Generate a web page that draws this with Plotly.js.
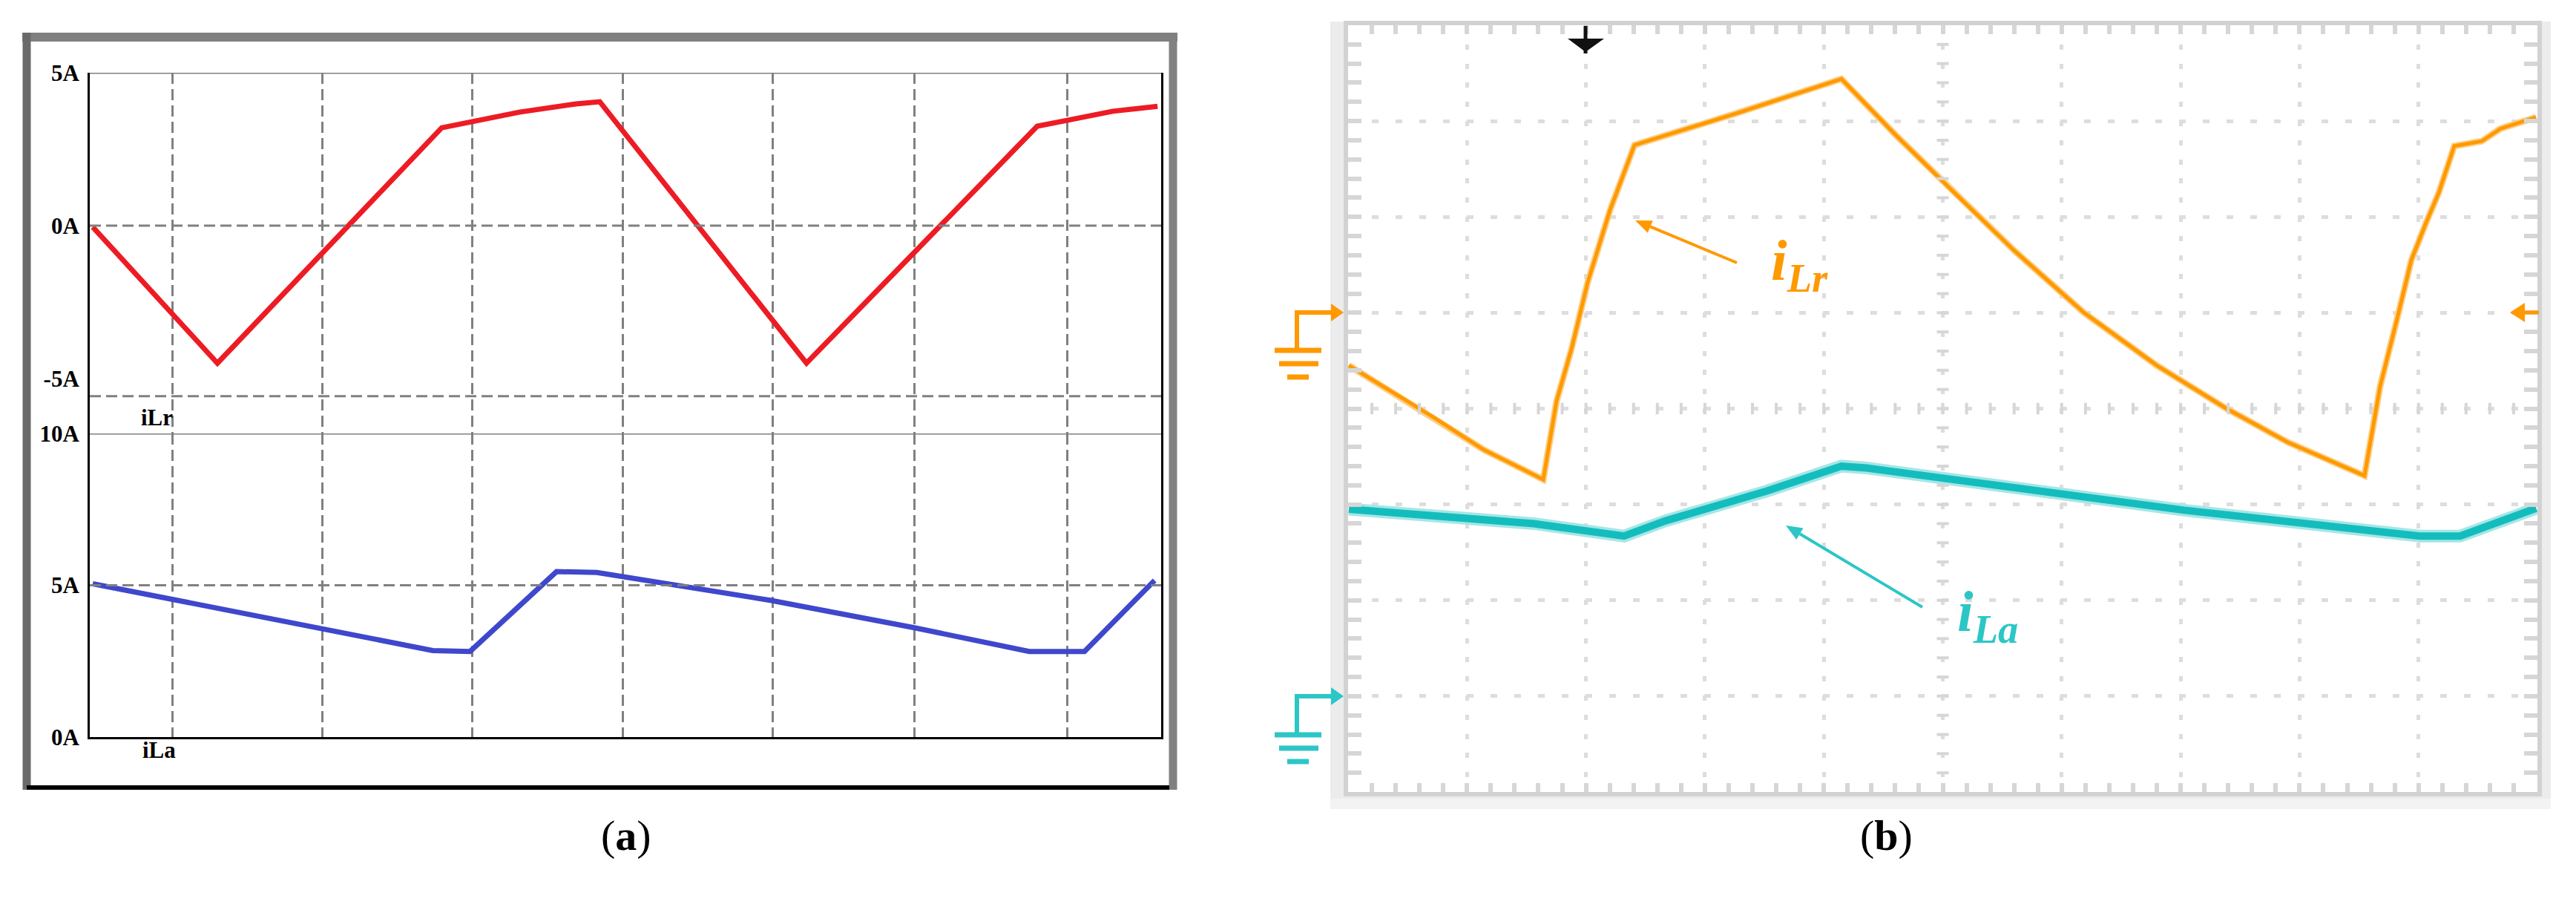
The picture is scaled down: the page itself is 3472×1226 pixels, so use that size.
<!DOCTYPE html>
<html><head><meta charset="utf-8">
<script src="https://cdn.plot.ly/plotly-3.0.1.min.js"></script>
<style>html,body{margin:0;padding:0;background:#fff;}#chart{width:3472px;height:1226px;}</style>
</head><body><div id="chart"></div>
<script>
// ---------- Panel (a): simulation (time in grid units) ----------
const simTimeILr = [0.02, 0.856, 2.36, 2.58, 2.88, 3.26, 3.42, 4.806, 6.353, 6.56, 6.86, 7.16];
const simILr     = [-0.05, -4.5, 3.2, 3.42, 3.71, 3.98, 4.05, -4.5, 3.25, 3.45, 3.74, 3.9];
const simTimeILa = [0.02, 1.565, 2.30, 2.55, 3.13, 3.40, 4.57, 5.53, 6.30, 6.67, 7.14];
const simILa     = [5.05, 3.55, 2.85, 2.82, 5.45, 5.42, 4.5, 3.6, 2.82, 2.82, 5.16];
const simGridTimes = [0.557, 1.562, 2.567, 3.577, 4.582, 5.532, 6.557];
const simTimeMax = 7.184;
const iLrTickVals = [5, 0, -5];
const iLrTickText = ['5A', '0A', '-5A'];
const iLaTickVals = [10, 5, 0];
const iLaTickText = ['10A', '5A', '0A'];
const iLrRange = [-6.8, 5];
const iLrSeparator = -5.58;
const iLaRange = [0, 10];

// ---------- Panel (b): oscilloscope (time & amplitude in divisions) ----------
const scopeTimeILr = [0.006, 0.705, 1.142, 1.641, 1.753, 1.878, 2.015, 2.202, 2.408, 3.263, 4.148, 4.6, 5.1, 5.6, 6.188, 6.8, 7.386, 7.9, 8.546, 8.677, 8.815, 8.940, 9.064, 9.170, 9.301, 9.532, 9.688, 9.988];
const scopeILr     = [-0.55, -1.08, -1.43, -1.74, -0.92, -0.38, 0.32, 1.07, 1.75, 2.08, 2.44, 1.86, 1.25, 0.65, 0.0, -0.55, -1.0, -1.35, -1.70, -0.77, -0.09, 0.55, 0.94, 1.25, 1.74, 1.79, 1.92, 2.04];
const scopeTimeILa = [0.006, 1.56, 2.32, 2.67, 3.52, 4.148, 4.36, 7.03, 9.01, 9.35, 9.99];
const scopeILa     = [1.95, 1.80, 1.67, 1.83, 2.14, 2.40, 2.38, 1.94, 1.67, 1.67, 1.96];
const scopeDivX = 10, scopeDivY = 8;
const ch1Range = [-5, 3];   // iLr ground marker 5 div above bottom
const ch2Range = [-1, 7];   // iLa ground marker 1 div above bottom

const W = 3472, H = 1226;
const px = x => x / W;
const py = y => 1 - y / H;

const RED = '#ED1C24', BLUE = '#3F47CC', ORANGE = '#FF9900', CYAN = '#14BDBD', CYANL = '#2CC6C6';
const serif = 'Liberation Serif, Times New Roman, serif';

const traces = [
  {x: simTimeILr, y: simILr, xaxis: 'x', yaxis: 'y', mode: 'lines', line: {color: RED, width: 7}, hoverinfo: 'skip'},
  {x: simTimeILa, y: simILa, xaxis: 'x2', yaxis: 'y2', mode: 'lines', line: {color: BLUE, width: 7}, hoverinfo: 'skip'},
  {x: scopeTimeILa, y: scopeILa, xaxis: 'x3', yaxis: 'y5', mode: 'lines', line: {color: '#A6E6E6', width: 17}, hoverinfo: 'skip'},
  {x: scopeTimeILa, y: scopeILa, xaxis: 'x3', yaxis: 'y5', mode: 'lines', line: {color: CYAN, width: 10}, hoverinfo: 'skip'},
  {x: scopeTimeILr, y: scopeILr, xaxis: 'x3', yaxis: 'y4', mode: 'lines', line: {color: '#FBD08A', width: 9}, hoverinfo: 'skip'},
  {x: scopeTimeILr, y: scopeILr, xaxis: 'x3', yaxis: 'y4', mode: 'lines', line: {color: ORANGE, width: 5}, hoverinfo: 'skip'}
];

const gridGray = '#808080';
const dashA = '15px,7px';
const shapes = [];
const P = (x, y) => `${px(x)} ${py(y)}`;
// panel (a) frame
shapes.push({type: 'line', xref: 'paper', yref: 'paper', x0: px(30), x1: px(1587), y0: py(50), y1: py(50), line: {color: '#808080', width: 12}});
shapes.push({type: 'line', xref: 'paper', yref: 'paper', x0: px(36), x1: px(36), y0: py(44), y1: py(1064), line: {color: '#6a6a6a', width: 11}});
shapes.push({type: 'line', xref: 'paper', yref: 'paper', x0: px(1581), x1: px(1581), y0: py(44), y1: py(1064), line: {color: '#808080', width: 11}});
shapes.push({type: 'line', xref: 'paper', yref: 'paper', x0: px(36), x1: px(1576), y0: py(1061), y1: py(1061), line: {color: '#000', width: 6}});
// panel (a) horizontal lines
shapes.push({type: 'line', xref: 'x', yref: 'y', x0: 0, x1: simTimeMax, y0: iLrTickVals[0], y1: iLrTickVals[0], line: {color: gridGray, width: 3}});
shapes.push({type: 'line', xref: 'x', yref: 'y', x0: 0, x1: simTimeMax, y0: 0, y1: 0, line: {color: gridGray, width: 3, dash: dashA}});
shapes.push({type: 'line', xref: 'x', yref: 'y', x0: 0, x1: simTimeMax, y0: iLrSeparator, y1: iLrSeparator, line: {color: gridGray, width: 3, dash: dashA}});
shapes.push({type: 'line', xref: 'x2', yref: 'y2', x0: 0, x1: simTimeMax, y0: iLaTickVals[0], y1: iLaTickVals[0], line: {color: gridGray, width: 3}});
shapes.push({type: 'line', xref: 'x2', yref: 'y2', x0: 0, x1: simTimeMax, y0: 5, y1: 5, line: {color: gridGray, width: 3, dash: dashA}});

// panel (b) background bands
shapes.push({type: 'rect', layer: 'below', xref: 'paper', yref: 'paper', x0: px(1793), x1: px(3438), y0: py(1076), y1: py(29), fillcolor: '#ececec', line: {width: 0}});
shapes.push({type: 'rect', layer: 'below', xref: 'paper', yref: 'paper', x0: px(1793), x1: px(3438), y0: py(1090), y1: py(1076), fillcolor: '#f3f3f3', line: {width: 0}});
shapes.push({type: 'rect', layer: 'below', xref: 'paper', yref: 'paper', x0: px(1817), x1: px(3420), y0: py(1067), y1: py(34), fillcolor: '#ffffff', line: {width: 0}});
// crosshair ticks
for (let k = 1; k < scopeDivY * 5; k++) {
  const v = k / 5;
  shapes.push({type: 'line', xref: 'x3', yref: 'y3', x0: scopeDivX / 2 - 0.05, x1: scopeDivX / 2 + 0.05, y0: v, y1: v, line: {color: '#d6d6d6', width: 4}});
}
for (let k = 1; k < scopeDivX * 5; k++) {
  const v = k / 5;
  shapes.push({type: 'line', xref: 'x3', yref: 'y3', x0: v, x1: v, y0: scopeDivY / 2 - 0.06, y1: scopeDivY / 2 + 0.06, line: {color: '#d6d6d6', width: 4}});
}
// trigger marker (top)
shapes.push({type: 'line', xref: 'paper', yref: 'paper', x0: px(2137), x1: px(2137), y0: py(35), y1: py(72), line: {color: '#111', width: 5}});
shapes.push({type: 'path', xref: 'paper', yref: 'paper', path: `M ${P(2113, 52)} L ${P(2162, 52)} L ${P(2137, 70)} Z`, fillcolor: '#111', line: {width: 0}});
// trigger level marker (right)
shapes.push({type: 'path', xref: 'paper', yref: 'paper', path: `M ${P(3383, 421)} L ${P(3403, 408)} L ${P(3403, 434)} Z`, fillcolor: ORANGE, line: {width: 0}});
shapes.push({type: 'line', xref: 'paper', yref: 'paper', x0: px(3400), x1: px(3422), y0: py(421), y1: py(421), line: {color: ORANGE, width: 5}});
// ground symbols
function ground(col, yg, ybar) {
  shapes.push({type: 'path', xref: 'paper', yref: 'paper', path: `M ${P(1748, ybar)} L ${P(1748, yg)} L ${P(1798, yg)}`, line: {color: col, width: 6}});
  shapes.push({type: 'path', xref: 'paper', yref: 'paper', path: `M ${P(1794, yg - 12)} L ${P(1811, yg)} L ${P(1794, yg + 12)} Z`, fillcolor: col, line: {width: 0}});
  shapes.push({type: 'line', xref: 'paper', yref: 'paper', x0: px(1718), x1: px(1781), y0: py(ybar), y1: py(ybar), line: {color: col, width: 7}});
  shapes.push({type: 'line', xref: 'paper', yref: 'paper', x0: px(1724), x1: px(1777), y0: py(ybar + 18), y1: py(ybar + 18), line: {color: col, width: 7}});
  shapes.push({type: 'line', xref: 'paper', yref: 'paper', x0: px(1735), x1: px(1764), y0: py(ybar + 36), y1: py(ybar + 36), line: {color: col, width: 7}});
}
ground(ORANGE, 421, 472);
ground(CYANL, 938, 990);
// pointer arrows (tail -> head), drawn as shapes
function arrow(col, tx, ty, hx, hy) {
  const dx = hx - tx, dy = hy - ty, L = Math.hypot(dx, dy), ux = dx / L, uy = dy / L;
  const hl = 22, hw = 9;
  const bx = hx - ux * hl, by = hy - uy * hl;
  shapes.push({type: 'line', xref: 'paper', yref: 'paper', x0: px(tx), y0: py(ty), x1: px(bx), y1: py(by), line: {color: col, width: 4}});
  shapes.push({type: 'path', xref: 'paper', yref: 'paper',
    path: `M ${P(hx, hy)} L ${P(bx - uy * hw, by + ux * hw)} L ${P(bx + uy * hw, by - ux * hw)} Z`, fillcolor: col, line: {width: 0}});
}
arrow(ORANGE, 2341, 354, 2204, 297);
arrow(CYANL, 2591, 818, 2407, 708);

const annotations = [
  {xref: 'paper', yref: 'paper', x: px(188), y: py(562), text: '<b>iLr</b>', showarrow: false, font: {family: serif, size: 31, color: '#000'}},
  {xref: 'paper', yref: 'paper', x: px(190), y: py(1030), text: '<b>iLa</b>', showarrow: false, font: {family: serif, size: 31, color: '#000'}},
  {xref: 'paper', yref: 'paper', x: px(808), y: py(1160), text: '(<b>a</b>)', showarrow: false, font: {family: serif, size: 58, color: '#000'}},
  {xref: 'paper', yref: 'paper', x: px(2580), y: py(1160), text: '(<b>b</b>)', showarrow: false, font: {family: serif, size: 58, color: '#000'}},
  {xref: 'paper', yref: 'paper', x: px(2466), y: py(305), text: '<b><i>i</i></b><sub><b><i>Lr</i></b></sub>', showarrow: false, font: {family: serif, size: 78, color: ORANGE}},
  {xref: 'paper', yref: 'paper', x: px(2722), y: py(880), text: '<b><i>i</i></b><sub><b><i>La</i></b></sub>', showarrow: false, font: {family: serif, size: 78, color: CYANL}}
];

const tickFont = {family: serif, size: 31, color: '#000', weight: 'bold'};
const simX = {
  range: [0, simTimeMax], tickvals: simGridTimes, showticklabels: false, ticks: '',
  showgrid: true, gridcolor: gridGray, gridwidth: 3, griddash: dashA, zeroline: false, fixedrange: true
};
const scopeTick = {ticks: 'inside', tickwidth: 6, tickcolor: '#d6d6d6'};

const layout = {
  width: W, height: H, margin: {l: 0, r: 0, t: 0, b: 0},
  paper_bgcolor: '#fff', plot_bgcolor: 'rgba(0,0,0,0)', showlegend: false,
  xaxis: Object.assign({}, simX, {domain: [px(121), px(1565)], anchor: 'y', showline: false}),
  xaxis2: Object.assign({}, simX, {domain: [px(121), px(1565)], anchor: 'y2', showline: true, linecolor: '#000', linewidth: 3}),
  yaxis: {domain: [py(584), py(98)], range: iLrRange, anchor: 'x', tickvals: iLrTickVals, ticktext: iLrTickText,
    ticks: '', showgrid: false, zeroline: false, showline: true, linecolor: '#000', linewidth: 3, mirror: true,
    tickfont: tickFont, ticklabelstandoff: 5, fixedrange: true},
  yaxis2: {domain: [py(993), py(584)], range: iLaRange, anchor: 'x2', tickvals: iLaTickVals, ticktext: iLaTickText,
    ticks: '', showgrid: false, zeroline: false, showline: true, linecolor: '#000', linewidth: 3, mirror: true,
    tickfont: tickFont, ticklabelstandoff: 5, fixedrange: true},
  xaxis3: Object.assign({domain: [px(1817), px(3420)], range: [0, scopeDivX], anchor: 'y3', dtick: 1, tick0: 0,
    showticklabels: false, showgrid: true, gridcolor: '#dddddd', gridwidth: 5, griddash: '7px,18.8px',
    ticklen: 12, minor: {dtick: 0.2, ticks: 'inside', ticklen: 12, tickwidth: 6, tickcolor: '#d6d6d6', showgrid: false},
    showline: true, linecolor: '#d2d2d2', linewidth: 6, mirror: 'allticks', zeroline: false, fixedrange: true}, scopeTick),
  yaxis3: Object.assign({domain: [py(1067), py(34)], range: [0, scopeDivY], anchor: 'x3', dtick: 1, tick0: 0,
    showticklabels: false, showgrid: true, gridcolor: '#dddddd', gridwidth: 5, griddash: '9px,23px',
    ticklen: 18, minor: {dtick: 0.2, ticks: 'inside', ticklen: 18, tickwidth: 6, tickcolor: '#d6d6d6', showgrid: false},
    showline: true, linecolor: '#d2d2d2', linewidth: 6, mirror: 'allticks', zeroline: false, fixedrange: true}, scopeTick),
  yaxis4: {overlaying: 'y3', range: ch1Range, visible: false, fixedrange: true},
  yaxis5: {overlaying: 'y3', range: ch2Range, visible: false, fixedrange: true},
  shapes: shapes, annotations: annotations
};

Plotly.newPlot('chart', traces, layout, {staticPlot: true, displayModeBar: false});
</script>
</body></html>
